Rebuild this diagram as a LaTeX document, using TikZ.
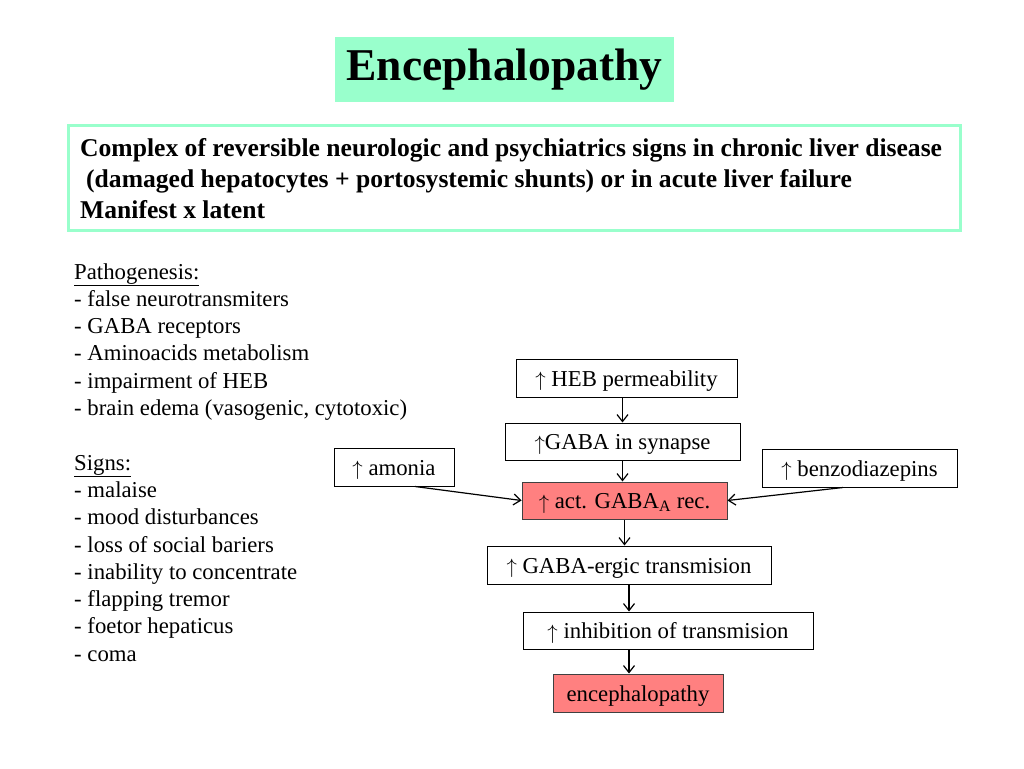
\documentclass[tikz,border=0pt]{standalone}
\usepackage{fontspec}
\setmainfont{Liberation Serif}
\usetikzlibrary{arrows.meta,calc}
\definecolor{mint}{RGB}{153,255,204}
\definecolor{salmon}{RGB}{255,128,128}
\newcommand{\upar}{\raisebox{-0.5pt}{$\uparrow$}}
\tikzset{
  fbox/.style={draw=black, line width=1pt, fill=white, inner sep=0pt,
    text height=17pt, text depth=1pt,
    font=\fontsize{22.75}{27.3}\selectfont},
  redbox/.style={fbox, fill=salmon, draw=black!75},
  arr/.style={line width=1.2pt, -{Straight Barb[length=7pt,width=11pt]}},
  listtxt/.style={anchor=base west, inner sep=0pt, font=\fontsize{22.75}{27.3}\selectfont},
  deftxt/.style={anchor=base west, inner sep=0pt, font=\bfseries\fontsize{25.6}{31}\selectfont}
}
\begin{document}
\begin{tikzpicture}[x=1pt,y=-1pt]
\useasboundingbox (0,0) rectangle (1024,768);
\fill[white] (0,0) rectangle (1024,768);
% title
\node[fill=mint, minimum width=339pt, minimum height=65pt, inner sep=0pt,
      font=\bfseries\fontsize{45.5}{50}\selectfont] (title) at (504.5,69.5) {Encephalopathy};
% definition box
\node[draw=mint, line width=3pt, minimum width=892pt, minimum height=105pt, inner sep=0pt] (def) at (514,177.5) {};
\node[deftxt] (d1) at (80,156) {Complex of reversible neurologic and psychiatrics signs in chronic liver disease};
\node[deftxt] (d2) at (86,187) {(damaged hepatocytes + portosystemic shunts) or in acute liver failure};
\node[deftxt] (d3) at (80,218) {Manifest x latent};
% left list
\foreach \t [count=\i from 0] in {
  {\underline{Pathogenesis:}},
  {- false neurotransmiters},
  {- GABA receptors},
  {- Aminoacids metabolism},
  {- impairment of HEB},
  {- brain edema (vasogenic, cytotoxic)},
  {},
  {\underline{Signs:}},
  {- malaise},
  {- mood disturbances},
  {- loss of social bariers},
  {- inability to concentrate},
  {- flapping tremor},
  {- foetor hepaticus},
  {- coma}}
  \node[listtxt] (l\i) at (74,{279+27.3*\i}) {\t};
% flowchart
\node[fbox, minimum width=221pt, minimum height=38pt] (heb) at (626.5,378) {\upar{} HEB permeability};
\node[fbox, minimum width=235pt, minimum height=37pt] (gaba) at (622.5,441.5) {\upar GABA in synapse};
\node[fbox, minimum width=120pt, minimum height=38pt] (amonia) at (394,467) {\upar{} amonia};
\node[fbox, minimum width=195pt, minimum height=38pt] (benzo) at (859.5,468) {\upar{} benzodiazepins};
\node[redbox, minimum width=205pt, minimum height=37pt] (act) at (624.5,500.5) {\upar{} act. GABA\textsubscript{A} rec.};
\node[fbox, minimum width=284pt, minimum height=38pt] (ergic) at (629,565) {\upar{} GABA-ergic transmision};
\node[fbox, minimum width=290pt, minimum height=37pt] (inhib) at (668,630.5) {\upar{} inhibition of transmision};
\node[redbox, minimum width=170pt, minimum height=38pt] (enc) at (638,693) {encephalopathy};
% connectors
\draw[arr] (gaba.north |- heb.south) -- (gaba.north);
\draw[arr] (gaba.south) -- (gaba.south |- act.north);
\draw[arr] (act.south) -- (act.south |- ergic.north);
\draw[arr] (ergic.south) -- (ergic.south |- inhib.north);
\draw[arr] (inhib.south -| ergic.south) -- (enc.north -| ergic.south);
\draw[arr] ($(amonia.south)+(21,0)$) -- (act.west);
\draw[arr] ($(benzo.south)+(-16.5,0)$) -- (act.east);
\end{tikzpicture}
\end{document}
